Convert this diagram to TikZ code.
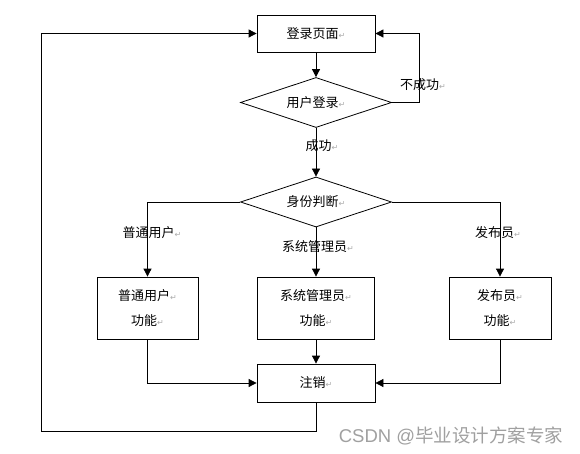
\documentclass[tikz,border=0pt]{standalone}
\usepackage{fontspec}
\setmainfont{Liberation Sans}
\newfontfamily\cjk{Noto Sans CJK SC}
\newfontfamily\symf{DejaVu Sans}
\usetikzlibrary{shapes.geometric,arrows.meta}
\definecolor{retgray}{RGB}{170,170,170}
\definecolor{wmgray}{RGB}{160,160,160}
\newcommand\ret{{\symf\fontsize{8}{8}\selectfont\color{retgray}↵}}
\tikzset{
  base/.style={font=\cjk\fontsize{13}{25}\selectfont, align=center, inner sep=0pt},
  box/.style={base, draw, line width=0.8pt},
  dia/.style={base, draw, diamond, shape aspect=3, line width=0.8pt, minimum width=151pt, minimum height=50pt},
  lbl/.style={base},
  arr/.style={line width=0.8pt, -{Triangle[length=8pt,width=8pt]}},
  ln/.style={line width=0.8pt}
}
\begin{document}
\begin{tikzpicture}[x=1pt,y=-1pt]
\useasboundingbox (0,0) rectangle (580,454);
\node[box, minimum width=118pt, minimum height=37pt] (login) at (316,33.5) {登录页面\ret};
\node[dia] (d1) at (316,102.5) {用户登录\ret};
\node[dia] (d2) at (316,202) {身份判断\ret};
\node[box, minimum width=101pt, minimum height=62pt] (u) at (147.5,308) {普通用户\ret\\功能\ret};
\node[box, minimum width=117pt, minimum height=62pt] (a) at (316,308) {系统管理员\ret\\功能\ret};
\node[box, minimum width=102pt, minimum height=62pt] (p) at (500,308) {发布员\ret\\功能\ret};
\node[box, minimum width=118pt, minimum height=38pt] (out) at (316,383) {注销\ret};
\coordinate (fr) at (419,102.5);
\coordinate (lp) at (41,431);
\draw[arr] (login) -- (d1);
\draw[arr] (d1.east) -- (fr) |- (login.east);
\node[lbl] (nf) at (423,85) {不成功\ret};
\draw[arr] (d1) -- (d2);
\node[lbl] (ok) at (322,146) {成功\ret};
\draw[arr] (d2.west) -| (u.north);
\draw[arr] (d2) -- (a);
\draw[arr] (d2.east) -| (p.north);
\node[lbl] (lu) at (152,233) {普通用户\ret};
\node[lbl] (la) at (318,247) {系统管理员\ret};
\node[lbl] (lpb) at (498,233) {发布员\ret};
\draw[arr] (u.south) |- (out.west);
\draw[arr] (a) -- (out);
\draw[arr] (p.south) |- (out.east);
\draw[arr] (out.south) |- (lp) |- (login.west);
\node[inner sep=0pt, text=wmgray, font=\fontsize{18.5}{18.5}\selectfont] (wm) at (451,436) {CSDN @{\cjk 毕业设计方案专家}};
\end{tikzpicture}
\end{document}
